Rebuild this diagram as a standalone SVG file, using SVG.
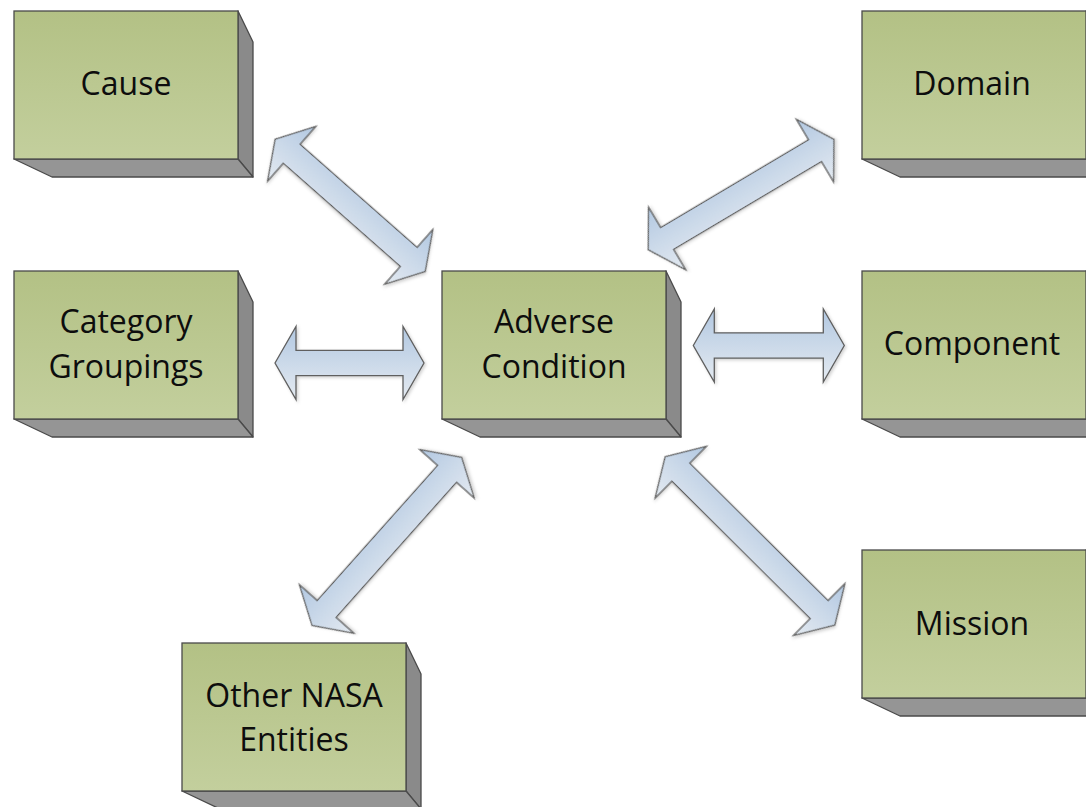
<svg xmlns="http://www.w3.org/2000/svg" width="1086" height="807" viewBox="0 0 1086 807">
  <defs>
    <linearGradient id="faceGrad" x1="0" y1="0" x2="0" y2="1">
      <stop offset="0" stop-color="#b3c185"/>
      <stop offset="1" stop-color="#c3cf9d"/>
    </linearGradient>
    <linearGradient id="arrowGrad" x1="0" y1="0" x2="0" y2="1">
      <stop offset="0" stop-color="#b2c8e1"/>
      <stop offset="1" stop-color="#e4eaf1"/>
    </linearGradient>
    <filter id="soft" x="-20%" y="-20%" width="140%" height="140%">
      <feDropShadow dx="1.5" dy="1.5" stdDeviation="1.5" flood-color="#000" flood-opacity="0.18"/>
    </filter>
  </defs>
  <style>
    .face { fill: url(#faceGrad); stroke: #4a4a4a; stroke-width: 1.3; }
    .side { fill: #8a8a8a; stroke: #4a4a4a; stroke-width: 1.3; stroke-linejoin: round; }
    .bottom { fill: #959595; stroke: #4a4a4a; stroke-width: 1.3; stroke-linejoin: round; }
    .label { font-family: "Open Sans", "Noto Sans", "Liberation Sans", sans-serif; font-size: 32px; fill: #0d0d0d; text-anchor: middle; }
    .arrow { fill: url(#arrowGrad); stroke: #5f5f5f; stroke-width: 1.3; stroke-linejoin: miter; filter: url(#soft); }
  </style>

  <!-- connectors: double-headed block arrows -->
  <g id="connectors">
    <!-- Cause <-> Adverse Condition -->
    <path class="arrow" transform="translate(275.2,139.2) rotate(41.4)"
          d="M0,0 L22,-36.5 L22,-12.7 L178,-12.7 L178,-36.5 L200,0 L178,36.5 L178,12.7 L22,12.7 L22,36.5 Z"/>
    <!-- Category Groupings <-> Adverse Condition -->
    <path class="arrow" transform="translate(275,363)"
          d="M0,0 L21,-36.5 L21,-12.7 L128,-12.7 L128,-36.5 L149,0 L128,36.5 L128,12.7 L21,12.7 L21,36.5 Z"/>
    <!-- Other NASA Entities <-> Adverse Condition -->
    <path class="arrow" transform="translate(312,625.4) rotate(-48.3)"
          d="M0,0 L22,-36.5 L22,-12.7 L203,-12.7 L203,-36.5 L225,0 L203,36.5 L203,12.7 L22,12.7 L22,36.5 Z"/>
    <!-- Adverse Condition <-> Domain -->
    <path class="arrow" transform="translate(648.2,249.7) rotate(-30.7)"
          d="M0,0 L22,-36.5 L22,-12.7 L194,-12.7 L194,-36.5 L216,0 L194,36.5 L194,12.7 L22,12.7 L22,36.5 Z"/>
    <!-- Adverse Condition <-> Component -->
    <path class="arrow" transform="translate(693.3,345.5)"
          d="M0,0 L21,-36.5 L21,-12.7 L130,-12.7 L130,-36.5 L151,0 L130,36.5 L130,12.7 L21,12.7 L21,36.5 Z"/>
    <!-- Adverse Condition <-> Mission -->
    <path class="arrow" transform="translate(665.2,456.7) rotate(44.8)"
          d="M0,0 L22,-36.5 L22,-12.7 L217,-12.7 L217,-36.5 L239,0 L217,36.5 L217,12.7 L22,12.7 L22,36.5 Z"/>
  </g>

  <!-- 3-D boxes: front face 224x148, side depth 15 right / 18 down -->
  <g id="cause" transform="translate(14,11)">
    <polygon class="side" points="224,0 239,31 239,166 224,148"/>
    <polygon class="bottom" points="0,148 38,166 239,166 224,148"/>
    <rect class="face" x="0" y="0" width="224" height="148"/>
    <text class="label" x="112" y="84">Cause</text>
  </g>

  <g id="category-groupings" transform="translate(14,271)">
    <polygon class="side" points="224,0 239,31 239,166 224,148"/>
    <polygon class="bottom" points="0,148 38,166 239,166 224,148"/>
    <rect class="face" x="0" y="0" width="224" height="148"/>
    <text class="label" x="112" y="62">Category</text>
    <text class="label" x="112" y="107">Groupings</text>
  </g>

  <g id="adverse-condition" transform="translate(442,271)">
    <polygon class="side" points="224,0 239,31 239,166 224,148"/>
    <polygon class="bottom" points="0,148 38,166 239,166 224,148"/>
    <rect class="face" x="0" y="0" width="224" height="148"/>
    <text class="label" x="112" y="62">Adverse</text>
    <text class="label" x="112" y="107">Condition</text>
  </g>

  <g id="other-nasa-entities" transform="translate(182,643)">
    <polygon class="side" points="224,0 239,31 239,166 224,148"/>
    <polygon class="bottom" points="0,148 38,166 239,166 224,148"/>
    <rect class="face" x="0" y="0" width="224" height="148"/>
    <text class="label" x="112" y="64">Other NASA</text>
    <text class="label" x="112" y="108">Entities</text>
  </g>

  <g id="domain" transform="translate(862,11)">
    <polygon class="side" points="224,0 239,31 239,166 224,148"/>
    <polygon class="bottom" points="0,148 38,166 239,166 224,148"/>
    <rect class="face" x="0" y="0" width="224" height="148"/>
    <text class="label" x="110" y="84">Domain</text>
  </g>

  <g id="component" transform="translate(862,271)">
    <polygon class="side" points="224,0 239,31 239,166 224,148"/>
    <polygon class="bottom" points="0,148 38,166 239,166 224,148"/>
    <rect class="face" x="0" y="0" width="224" height="148"/>
    <text class="label" x="110" y="84">Component</text>
  </g>

  <g id="mission" transform="translate(862,550)">
    <polygon class="side" points="224,0 239,31 239,166 224,148"/>
    <polygon class="bottom" points="0,148 38,166 239,166 224,148"/>
    <rect class="face" x="0" y="0" width="224" height="148"/>
    <text class="label" x="110" y="85">Mission</text>
  </g>
</svg>
